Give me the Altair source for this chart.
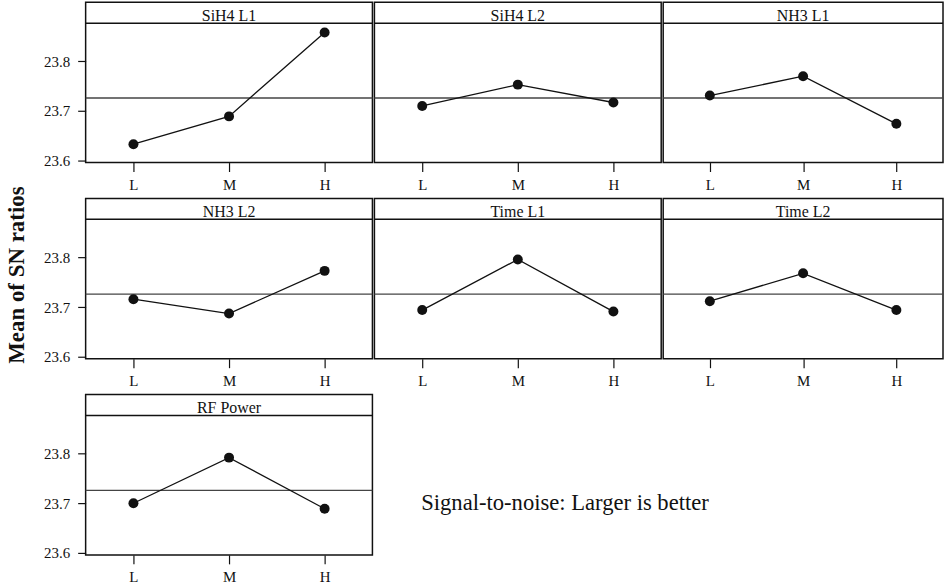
import altair as alt
import pandas as pd

# ---- data ----
levels = ["L", "M", "H"]
factor_names = ["SiH4 L1", "SiH4 L2", "NH3 L1", "NH3 L2", "Time L1", "Time L2", "RF Power"]
sih4_l1 = [23.633, 23.689, 23.858]
sih4_l2 = [23.710, 23.753, 23.717]
nh3_l1 = [23.731, 23.770, 23.674]
nh3_l2 = [23.716, 23.687, 23.773]
time_l1 = [23.694, 23.796, 23.691]
time_l2 = [23.712, 23.768, 23.694]
rf_power = [23.700, 23.792, 23.689]
y_ticks = [23.6, 23.7, 23.8]
y_title = "Mean of SN ratios"
note = "Signal-to-noise: Larger is better"

series = [sih4_l1, sih4_l2, nh3_l1, nh3_l2, time_l1, time_l2, rf_power]
all_vals = [v for s in series for v in s]
grand_mean = sum(all_vals) / len(all_vals)

# ---- style ----
FONT = "Liberation Serif"
Y_DOMAIN = [23.596, 23.919]
PANEL_H = 161
STRIP_H = 21
WIDTHS = [288, 288, 281]
GAP = -3  # cancels the stroke padding Vega adds around each panel frame


def panel(name, values, width, first_col):
    df = pd.DataFrame({"level": levels, "value": values})
    yscale = alt.Scale(domain=Y_DOMAIN, nice=False, zero=False)
    if first_col:
        yaxis = alt.Axis(values=y_ticks, format=".1f", tickSize=8, labelPadding=8,
                         labelFontSize=15, domain=False, grid=False, title=None)
    else:
        yaxis = None
    x = alt.X("level:N", sort=levels,
              scale=alt.Scale(type="point", padding=0.5),
              axis=alt.Axis(title=None, labelAngle=0, tickSize=9, labelPadding=6,
                            labelFontSize=15, domain=False, grid=False))
    y = alt.Y("value:Q", scale=yscale, axis=yaxis)
    base = alt.Chart(df)
    line = base.mark_line(color="#111", strokeWidth=1.3).encode(x=x, y=y)
    pts = base.mark_circle(color="#111", opacity=1, size=100).encode(x=x, y=y)
    mean_rule = alt.Chart(pd.DataFrame({"value": [grand_mean]})).mark_rule(
        color="#444", strokeWidth=1.4).encode(y=alt.Y("value:Q", scale=yscale, axis=yaxis))
    strip_rule = alt.Chart(pd.DataFrame({"s": [0]})).mark_rule(
        color="#111", strokeWidth=1.5).encode(
        x=alt.value(0), x2=alt.value(width), y=alt.value(STRIP_H))
    strip_text = alt.Chart(pd.DataFrame({"t": [name]})).mark_text(
        font=FONT, fontSize=16, baseline="alphabetic", align="center", color="#111"
    ).encode(text="t:N", x=alt.value(width / 2), y=alt.value(18.5))
    return alt.layer(mean_rule, strip_rule, line, pts, strip_text).properties(
        width=width, height=PANEL_H)


panels = [panel(n, s, WIDTHS[i % 3], i % 3 == 0) for i, (n, s) in enumerate(zip(factor_names, series))]

note_chart = alt.Chart(pd.DataFrame({"t": [note]})).mark_text(
    font=FONT, fontSize=22.7, align="left", baseline="alphabetic", color="#111"
).encode(text="t:N", x=alt.value(47), y=alt.value(116)).properties(
    width=500, height=PANEL_H, view=alt.ViewBackground(stroke="transparent"))

row1 = alt.hconcat(panels[0], panels[1], panels[2], spacing=GAP)
row2 = alt.hconcat(panels[3], panels[4], panels[5], spacing=GAP)
row3 = alt.hconcat(panels[6], note_chart, spacing=GAP)
grid = alt.vconcat(row1, row2, row3, spacing=4)

title_chart = alt.Chart(pd.DataFrame({"t": [y_title]})).mark_text(
    font=FONT, fontSize=23, fontWeight="bold", angle=270, align="center",
    baseline="middle", color="#111"
).encode(text="t:N", x=alt.value(16), y=alt.value(274)).properties(
    width=41, height=540, view=alt.ViewBackground(stroke="transparent"))

chart = alt.hconcat(title_chart, grid, spacing=0).properties(
    padding={"left": 0, "top": 0, "right": 0, "bottom": 0},
    background="white"
).configure_view(stroke="#111", strokeWidth=1.5).configure_axis(
    labelFont=FONT, labelColor="#111", tickColor="#111", tickWidth=1.2
)

chart.save("out.html", embed_options={"renderer": "svg", "actions": False})
